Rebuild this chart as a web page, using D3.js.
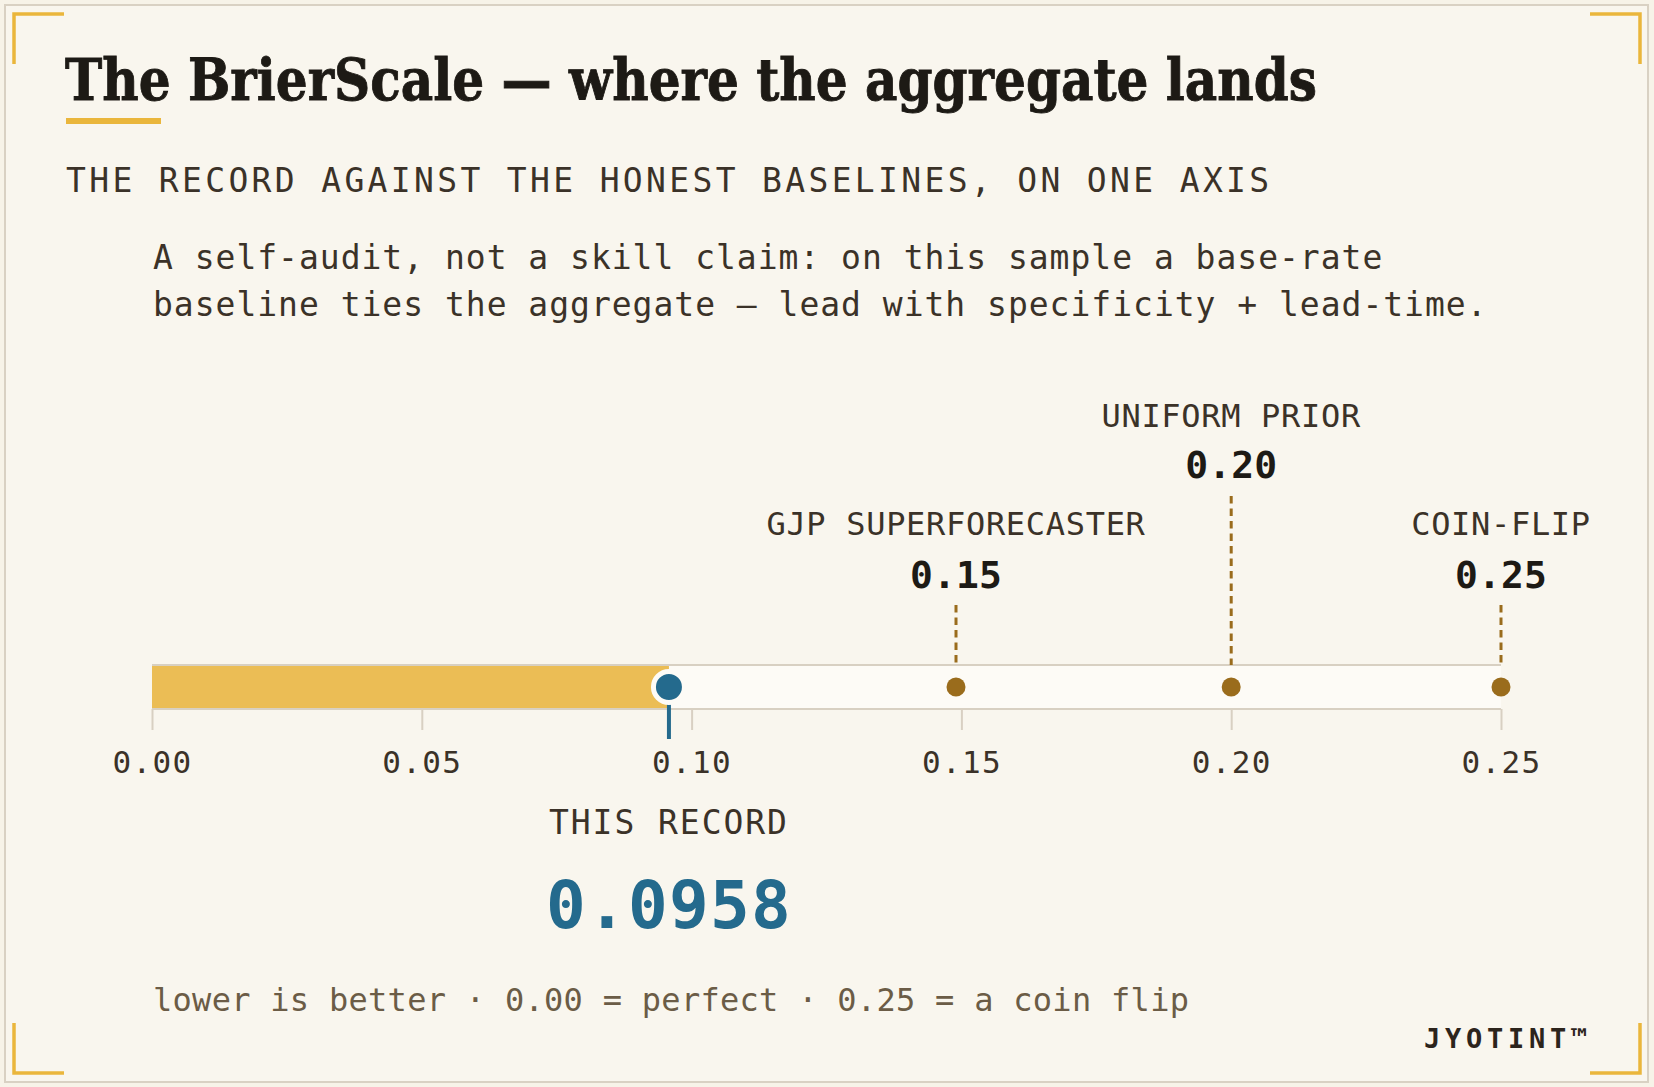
<!DOCTYPE html>
<html>
<head>
<meta charset="utf-8">
<script src="https://cdn.jsdelivr.net/npm/d3@7"></script>
<style>
  html, body { margin: 0; padding: 0; background: #f7f3e8; }
  svg { display: block; }
</style>
</head>
<body>
<script>
const W = 1654, H = 1087;

// ---- data ----
const ticks = [0, 0.05, 0.10, 0.15, 0.20, 0.25];
const baselineNames = ['GJP SUPERFORECASTER', 'UNIFORM PRIOR', 'COIN-FLIP'];
const baselineValues = [0.149, 0.20, 0.25];
const recordName = 'THIS RECORD';
const recordValue = 0.0958;

const title = 'The BrierScale \u2014 where the aggregate lands';
const subtitle = 'THE RECORD AGAINST THE HONEST BASELINES, ON ONE AXIS';
const descLines = [
  'A self-audit, not a skill claim: on this sample a base-rate',
  'baseline ties the aggregate \u2014 lead with specificity + lead-time.'
];
const footNote = 'lower is better \u00b7 0.00 = perfect \u00b7 0.25 = a coin flip';
const brand = 'JYOTINT\u2122';

// ---- style ----
const mono = "'DejaVu Sans Mono', monospace";
const ink = '#1d1a15', brown = '#3b3228', soft = '#6b5c46';
const gold = '#ebbd55', bronze = '#9a6c1c', teal = '#246a8d';
const trackLine = '#d8d0c2', trackFill = '#fdfbf6';

// mono helper: letter-spacing from wanted pitch
const ls = (size, pitch) => pitch - 0.602 * size;

const svg = d3.select('body').append('svg')
  .attr('width', W).attr('height', H);

svg.append('rect').attr('width', W).attr('height', H).attr('fill', '#f7f3e8');
svg.append('rect')
  .attr('x', 5).attr('y', 5).attr('width', 1643).attr('height', 1077)
  .attr('fill', '#f9f6ee').attr('stroke', '#d9d1c3').attr('stroke-width', 2);

// corner brackets
const arm = 50, ins = 14;
const corners = [
  [ins, ins, 1, 1], [W - ins, ins, -1, 1],
  [ins, H - ins, 1, -1], [W - ins, H - ins, -1, -1]
];
svg.append('g').selectAll('path').data(corners).enter().append('path')
  .attr('d', d => `M${d[0] + d[2] * arm},${d[1]} H${d[0]} V${d[1] + d[3] * arm}`)
  .attr('fill', 'none').attr('stroke', '#eab63c').attr('stroke-width', 3.5);

// title - heavy serif squeezed to the reference width
svg.append('text').attr('x', 65).attr('y', 100)
  .attr('font-family', "'DejaVu Serif', serif").attr('font-weight', 700)
  .attr('font-size', 57).attr('fill', ink)
  .attr('stroke', ink).attr('stroke-width', 0.9)
  .attr('textLength', 1252).attr('lengthAdjust', 'spacingAndGlyphs')
  .text(title);

svg.append('rect').attr('x', 66).attr('y', 118).attr('width', 95).attr('height', 6)
  .attr('fill', '#eab63c');

svg.append('text').attr('x', 66).attr('y', 192)
  .attr('font-family', mono).attr('font-size', 33).attr('fill', brown)
  .attr('letter-spacing', ls(33, 23.2)).text(subtitle);

svg.append('g').selectAll('text').data(descLines).enter().append('text')
  .attr('x', 153).attr('y', (d, i) => 269 + i * 47)
  .attr('font-family', mono).attr('font-size', 33).attr('fill', brown)
  .attr('letter-spacing', ls(33, 20.85)).text(d => d);

// ---- scale & track ----
const x = d3.scaleLinear().domain([0, 0.25]).range([152, 1501]);
const yTop = 665, yBot = 709, yMid = (yTop + yBot) / 2;

svg.append('rect').attr('x', x(0)).attr('y', yTop)
  .attr('width', x(0.25) - x(0)).attr('height', yBot - yTop).attr('fill', trackFill);
svg.append('rect').attr('x', x(0)).attr('y', yTop)
  .attr('width', x(recordValue) - x(0)).attr('height', yBot - yTop).attr('fill', gold);
[yTop, yBot].forEach(y => {
  svg.append('line').attr('x1', x(0)).attr('x2', x(0.25)).attr('y1', y).attr('y2', y)
    .attr('stroke', trackLine).attr('stroke-width', 2);
});

const axis = d3.axisBottom(x).tickValues(ticks).tickFormat(d3.format('.2f'))
  .tickSize(21).tickPadding(40);
const ag = svg.append('g').attr('transform', `translate(0,${yBot})`).call(axis);
ag.select('.domain').remove();
ag.selectAll('.tick line').attr('stroke', trackLine).attr('stroke-width', 2);
ag.selectAll('.tick text')
  .attr('y', 64).attr('dy', 0)
  .attr('font-family', mono).attr('font-size', 31).attr('fill', brown)
  .attr('letter-spacing', ls(31, 20));

// ---- baselines ----
const rows = [{ name: 535, val: 588, dash: 605 }, { name: 427, val: 478, dash: 496 }];
const bl = svg.append('g').selectAll('g').data(baselineValues).enter().append('g');
bl.append('line')
  .attr('x1', d => x(d)).attr('x2', d => x(d))
  .attr('y1', (d, i) => rows[i % 2].dash).attr('y2', yTop)
  .attr('stroke', bronze).attr('stroke-width', 3).attr('stroke-dasharray', '7.5 5');
bl.append('circle').attr('cx', d => x(d)).attr('cy', yMid).attr('r', 9.5).attr('fill', bronze);
bl.append('text')
  .attr('x', d => x(d)).attr('y', (d, i) => rows[i % 2].name)
  .attr('text-anchor', 'middle').attr('font-family', mono).attr('font-size', 32)
  .attr('fill', brown).attr('letter-spacing', ls(32, 19.95))
  .text((d, i) => baselineNames[i]);
bl.append('text')
  .attr('x', d => x(d)).attr('y', (d, i) => rows[i % 2].val)
  .attr('text-anchor', 'middle').attr('font-family', mono).attr('font-weight', 700)
  .attr('font-size', 38).attr('fill', ink).attr('letter-spacing', ls(38, 23))
  .text(d => d3.format('.2f')(d));

// ---- record ----
const rx = x(recordValue);
svg.append('line').attr('x1', rx).attr('x2', rx).attr('y1', yMid).attr('y2', 739)
  .attr('stroke', teal).attr('stroke-width', 4);
svg.append('circle').attr('cx', rx).attr('cy', yMid).attr('r', 15.5)
  .attr('fill', teal).attr('stroke', trackFill).attr('stroke-width', 5);
svg.append('text').attr('x', rx).attr('y', 834).attr('text-anchor', 'middle')
  .attr('font-family', mono).attr('font-size', 33).attr('fill', brown)
  .attr('letter-spacing', ls(33, 21.8)).text(recordName);
svg.append('text').attr('x', rx).attr('y', 928).attr('text-anchor', 'middle')
  .attr('font-family', mono).attr('font-weight', 700).attr('font-size', 66)
  .attr('fill', teal).attr('letter-spacing', ls(66, 41)).text(recordValue);

// ---- footer ----
svg.append('text').attr('x', 153).attr('y', 1011)
  .attr('font-family', mono).attr('font-size', 32).attr('fill', soft)
  .attr('letter-spacing', ls(32, 19.55)).text(footNote);
svg.append('text').attr('x', 1592).attr('y', 1048).attr('text-anchor', 'end')
  .attr('font-family', mono).attr('font-weight', 700).attr('font-size', 27)
  .attr('fill', '#2c241c').attr('letter-spacing', ls(27, 21)).text(brand);
</script>
</body>
</html>
